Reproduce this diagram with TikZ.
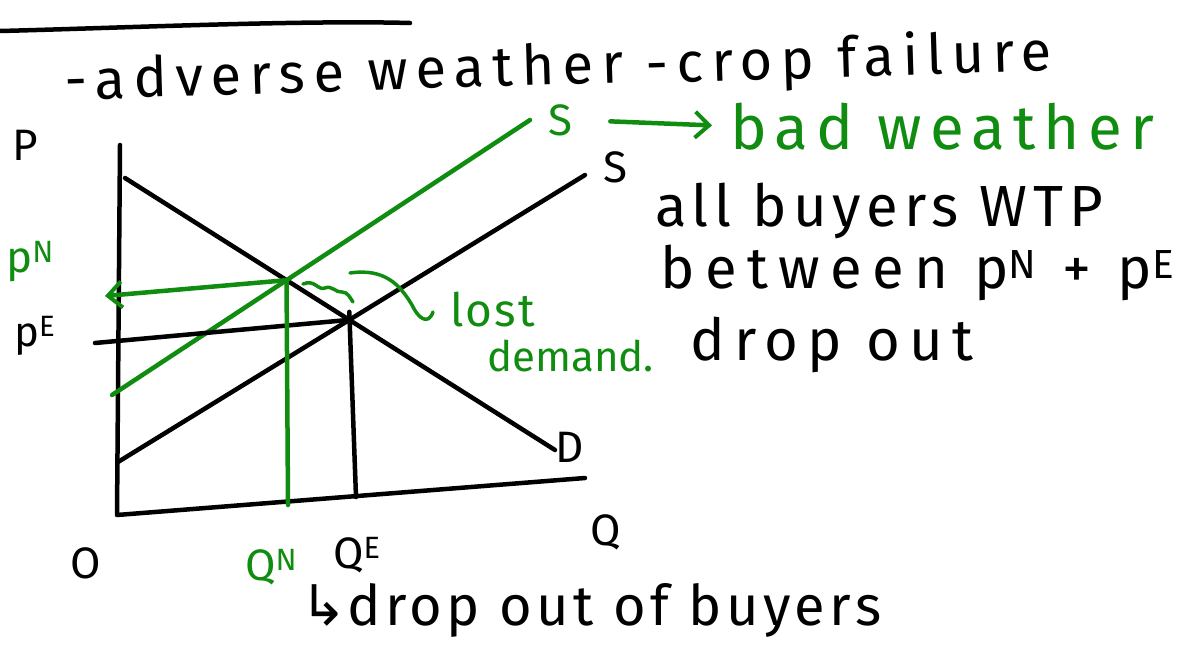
\documentclass[tikz,border=0pt]{standalone}
\usepackage{fontspec}
\setmainfont{Fira Sans}
\newfontfamily\symf{DejaVu Sans}
\usetikzlibrary{arrows.meta}
\definecolor{grn}{RGB}{16,140,16}
\begin{document}
\begin{tikzpicture}[x=1pt,y=-1pt,line cap=round,line join=round,
  ink/.style={line width=4.5pt,black},
  gink/.style={line width=4.5pt,grn},
  lab/.style={inner sep=0pt,anchor=base west},
  hw/.style 2 args={font=\fontsize{#1}{#1}\selectfont\addfontfeature{LetterSpace=#2}},
  tip/.style={-{Straight Barb[length=14pt,width=26pt,line width=4pt]}}]
\useasboundingbox (0,0) rectangle (1202,659);
% top rule
\coordinate (topL) at (0,31);
\coordinate (topR) at (410,23);
\draw[ink] (topL) .. controls (120,28) and (300,20) .. (topR);
% heading
\node[lab,hw={56}{15},rotate=1.8] (head1) at (65,100) {-adverse weather};
\node[lab,hw={56}{15},rotate=1.8] (head2) at ([xshift=22pt,yshift=-1pt]head1.base east) {-crop failure};
% axes
\coordinate (yTop) at (120,145);
\coordinate (orig) at (117,515);
\coordinate (xEnd) at (585,478);
\draw[ink] (yTop) -- (orig) -- (xEnd);
% curves
\coordinate (dA) at (125,178);
\coordinate (dB) at (555,450);
\coordinate (sA) at (118,462);
\coordinate (sB) at (585,175);
\coordinate (gA) at (112,395);
\coordinate (gB) at (530,120);
\draw[ink] (dA) -- (dB);
\draw[ink] (sA) -- (sB);
\draw[gink] (gA) -- (gB);
\coordinate (E) at (intersection of sA--sB and dA--dB);
\coordinate (N) at (intersection of gA--gB and dA--dB);
% equilibrium lines
\coordinate (peL) at (95,343);
\coordinate (qeB) at (356,497);
\draw[ink] (peL) -- (E);
\draw[ink] ([yshift=8pt]E) -- (qeB);
\coordinate (pnL) at (105,296);
\coordinate (qnB) at (288,505);
\draw[gink,tip] (N) -- (pnL);
\draw[gink] (N) -- (qnB);
% lost demand squiggle and leader
\draw[gink,line width=3.5pt] (303,284) .. controls (315,279) and (318,291) .. (325,288)
  .. controls (332,285) and (336,293) .. (342,292) .. controls (348,292) and (350,298) .. (353,302);
\node[lab,grn,hw={46}{5}] (lost) at (450,326) {lost};
\node[lab,grn,hw={42}{0}] (dem) at (487,371) {demand.};
\draw[gink,line width=3.5pt] (350,273) .. controls (385,268) and (400,285) .. (412,305)
  .. controls (418,318) and (428,326) .. (433,312);
% axis labels
\node[lab,hw={44}{0}] (P) at (12,160) {P};
\node[lab,grn,hw={44}{0}] (pN) at (6,272) {p\textsuperscript{N}};
\node[lab,hw={42}{0}] (pE) at (14,346) {p\textsuperscript{E}};
\node[lab,hw={44}{0}] (O) at (70,578) {O};
\node[lab,hw={44}{0}] (Q) at (590,545) {Q};
\node[lab,hw={44}{0}] (QE) at (333,568) {Q\textsuperscript{E}};
\node[lab,grn,hw={44}{0}] (QN) at (245,580) {Q\textsuperscript{N}};
\node[lab,hw={44}{0}] (D) at (555,462) {D};
\node[lab,hw={44}{0}] (S) at (603,182) {S};
\node[lab,grn,hw={44}{0}] (Sg) at (548,135) {S};
% bad weather
\node[lab,grn,hw={62}{13}] (bw) at (730,149) {bad weather};
\draw[gink,tip,shorten <=38pt,shorten >=18pt] (Sg.east) -- (bw.west);
% right notes
\node[lab,hw={58}{10}] (n1) at (655,226) {all buyers WTP};
\node[lab,hw={58}{18}] (n2) at (660,288) {between p\textsuperscript{N} + p\textsuperscript{E}};
\node[lab,hw={58}{16}] (n3) at (690,360) {drop out};
% bottom note
\node[lab,hw={56}{8}] (n4) at (300,625) {{\symf ↳}drop out of buyers};
\end{tikzpicture}
\end{document}
